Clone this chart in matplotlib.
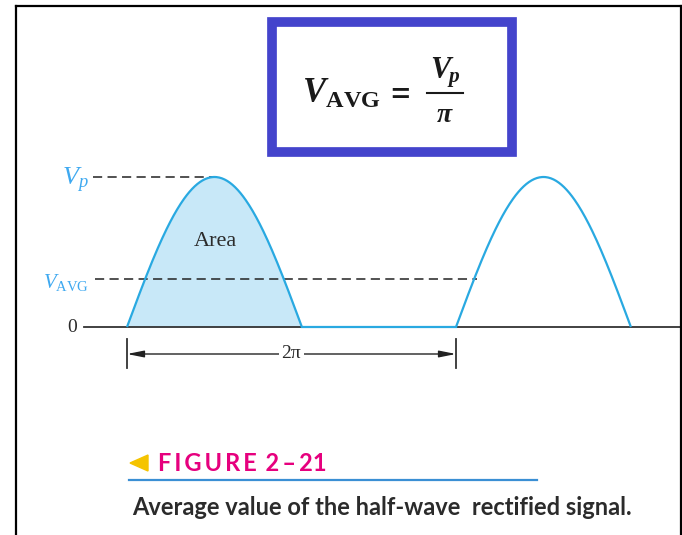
import numpy as np
import matplotlib
matplotlib.use("Agg")
import matplotlib.pyplot as plt
from matplotlib.patches import Rectangle, Polygon
from matplotlib.lines import Line2D

# half-wave rectified signal, x in radians, y normalised to the peak
v_peak = 1.0
v_avg = v_peak / np.pi
hump_starts = [0.0, 2 * np.pi]
hump_width = 3.34
zero_span = (hump_width, 2 * np.pi)
period_label = "2\u03c0"

plt.rcParams["mathtext.fontset"] = "custom"
plt.rcParams["mathtext.rm"] = "Liberation Serif"
plt.rcParams["mathtext.it"] = "Liberation Serif:italic"
plt.rcParams["mathtext.bf"] = "Liberation Serif:bold"
plt.rcParams["mathtext.bfit"] = "Liberation Serif:italic:bold"

W, H = 682, 535
fig = plt.figure(figsize=(W / 100, H / 100), dpi=100)

# main axes covers the whole canvas; scale so 1 rad ~ 52.4 px and 1 V ~ 150 px
ax = fig.add_axes([0, 0, 1, 1])
x0_px, y0_px = 127, 327
sx, sy = 329 / (2 * np.pi), 150
ax.set_xlim(-x0_px / sx, (W - x0_px) / sx)
ax.set_ylim((y0_px - H) / sy, y0_px / sy)
ax.axis("off")


def px(x, y):
    # figure fraction from pixel position measured from the top-left
    return x / W, 1 - y / H


def dx(p):
    return (p - x0_px) / sx


curve_col = "#29a9e1"
fill_col = "#c8e8f8"
label_col = "#3fa9f0"
ink = "#2b2b2b"
sans = ["Lato", "DejaVu Sans"]

# baseline
ax.plot([dx(84), dx(680)], [0, 0], color="#333333", lw=1.3, zorder=2)

# humps
for i, s in enumerate(hump_starts):
    t = np.linspace(0, hump_width, 200)
    v = v_peak * np.sin(np.pi * t / hump_width)
    if i == 0:
        ax.fill_between(s + t, 0, v, color=fill_col, lw=0, zorder=1)
    ax.plot(s + t, v, color=curve_col, lw=1.6, zorder=3,
            solid_capstyle="butt")
ax.plot(zero_span, [0, 0], color=curve_col, lw=1.6, zorder=3)

# reference levels
ax.plot([dx(93), hump_starts[0] + hump_width / 2 + 0.05], [v_peak, v_peak],
        color="#222222", lw=1.1, dashes=(6, 3.5), zorder=2)
ax.plot([dx(95), dx(477)], [v_avg, v_avg],
        color="#222222", lw=1.1, dashes=(6, 3.5), zorder=2)

ax.text(dx(89), v_peak - 0.02, r"$V_p$", color=label_col, fontsize=19,
        ha="right", va="center")
ax.text(dx(89), v_avg - 0.02, r"$V_{\mathrm{AVG}}$", color=label_col,
        fontsize=15, ha="right", va="center")
ax.text(dx(77), 0, "0", color=ink, fontsize=14, family="Liberation Serif",
        ha="right", va="center")
ax.text(dx(215), 0.57, "Area", color=ink,
        fontsize=16, family="Liberation Serif", ha="center", va="center")

# period dimension
ya = -27 / sy
for s in hump_starts:
    ax.plot([s, s], [-12 / sy, -41 / sy], color="#333333", lw=1.3)
ax.annotate("", xy=(hump_starts[0], ya), xytext=(hump_starts[1], ya),
            arrowprops=dict(arrowstyle="<|-|>,head_length=1.0,head_width=0.2",
                            color="#222222", lw=1.0, shrinkA=0, shrinkB=0))
ax.text(np.mean(hump_starts), ya, period_label, color=ink, fontsize=14,
        family="Liberation Serif", ha="center", va="center",
        bbox=dict(facecolor="white", edgecolor="none", pad=1.5))

# outer frame
fig.add_artist(Line2D([16 / W, 16 / W], [0, 1 - 6 / H], color="black", lw=1.6,
                      transform=fig.transFigure))
fig.add_artist(Line2D([680.5 / W, 680.5 / W], [0, 1 - 6 / H], color="black",
                      lw=1.6, transform=fig.transFigure))
fig.add_artist(Line2D([16 / W, 680.5 / W], [1 - 6 / H, 1 - 6 / H],
                      color="black", lw=1.6, transform=fig.transFigure))

# formula box
bx, by = px(272, 152)
fig.add_artist(Rectangle((bx, by), 240 / W, 130 / H, fill=False,
                         edgecolor="#4444cc", lw=7, transform=fig.transFigure))
fig.text(*px(302, 103), r"$\mathbfit{V}_{\mathbf{AVG}}$", fontsize=25,
         color="#1a1a1a", ha="left", va="baseline")
fig.text(*px(400, 97), "=", fontsize=25, family="Liberation Serif",
         weight="bold", color="#1a1a1a", ha="center", va="center")
fig.text(*px(445, 78), r"$\mathbfit{V}_{\!\mathbfit{p}}$", fontsize=22,
         color="#1a1a1a", ha="center", va="baseline")
fig.add_artist(Line2D([427 / W, 463 / W], [1 - 93 / H, 1 - 93 / H],
                      color="#1a1a1a", lw=1.5, transform=fig.transFigure))
fig.text(*px(444, 122), "\u03c0", fontsize=20, family="Liberation Serif",
         style="italic", weight="bold", color="#1a1a1a", ha="center",
         va="baseline")

# caption
fig.add_artist(Polygon([px(130, 463), px(148, 455), px(148, 471)],
                       closed=True, color="#f5c400",
                       transform=fig.transFigure))
fig.text(*px(158, 471), "\u2009".join("FIGURE") + "\u2009 2\u2009\u2013\u200921",
         fontsize=17, family=sans, weight="bold", color="#e6007e",
         ha="left", va="baseline")
fig.add_artist(Line2D([129 / W, 537 / W], [1 - 480 / H, 1 - 480 / H],
                      color="#3a8fd4", lw=1.6, transform=fig.transFigure))
fig.text(*px(132, 515), "Average value of the half-wave  rectified signal.",
         fontsize=17, family=sans, weight="bold",
         color="#2b2b2b", ha="left", va="baseline")

fig.savefig("out.png", dpi=100, facecolor="white")
